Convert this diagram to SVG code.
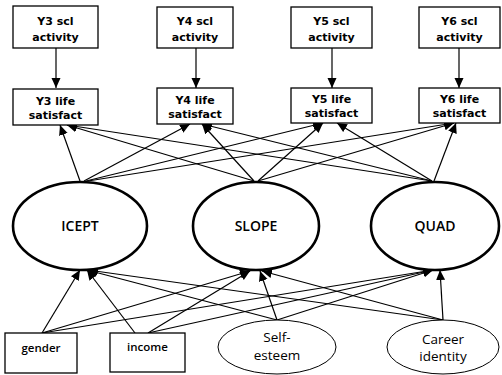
<svg xmlns="http://www.w3.org/2000/svg" width="502" height="375" viewBox="0 0 502 375">
<style>
.box{fill:#fff;stroke:#000;stroke-width:1.3}
.lat{fill:#fff;stroke:#000;stroke-width:2.6}
.obs{fill:#fff;stroke:#000;stroke-width:1}
.bt{font-family:"DejaVu Sans",sans-serif;font-size:11px;font-weight:bold;text-anchor:middle;fill:#000}
.lt{font-family:"Open Sans",sans-serif;font-size:14px;font-weight:600;text-anchor:middle;fill:#000}
.xt{font-family:"Open Sans",sans-serif;font-size:11.5px;font-weight:600;text-anchor:middle;fill:#000}
.ot{font-family:"Open Sans",sans-serif;font-size:13.5px;text-anchor:middle;fill:#000}
.c line{stroke:#000;stroke-width:1.2;marker-end:url(#ah)}
</style>
<defs>
<marker id="ah" markerUnits="userSpaceOnUse" markerWidth="12" markerHeight="10" refX="10" refY="4.5" orient="auto">
<path d="M0,0 L10,4.5 L0,9 Z" fill="#000"/>
</marker>
</defs>
<rect width="502" height="375" fill="#fff"/>
<g id="connectors" class="c">
<line x1="56" y1="48" x2="56" y2="88"/>
<line x1="196" y1="48" x2="196" y2="88"/>
<line x1="332" y1="48" x2="332" y2="88"/>
<line x1="459" y1="48" x2="459" y2="88"/>
<line x1="80" y1="181" x2="60" y2="125"/>
<line x1="84" y1="181" x2="190" y2="124"/>
<line x1="86" y1="181" x2="323" y2="123"/>
<line x1="88" y1="181" x2="454" y2="123"/>
<line x1="254" y1="181" x2="67" y2="125"/>
<line x1="254" y1="181" x2="202" y2="124"/>
<line x1="258" y1="181" x2="323" y2="123"/>
<line x1="258" y1="181" x2="454" y2="123"/>
<line x1="432" y1="181" x2="67" y2="125"/>
<line x1="432" y1="181" x2="202" y2="124"/>
<line x1="432" y1="181" x2="337" y2="123"/>
<line x1="434" y1="181" x2="456" y2="123"/>
<line x1="42" y1="333" x2="80" y2="270"/>
<line x1="42" y1="333" x2="250" y2="271"/>
<line x1="42" y1="333" x2="433" y2="270"/>
<line x1="135" y1="333" x2="87" y2="270"/>
<line x1="148" y1="333" x2="250" y2="271"/>
<line x1="148" y1="333" x2="433" y2="270"/>
<line x1="277" y1="320" x2="87" y2="270"/>
<line x1="277" y1="320" x2="260" y2="271"/>
<line x1="277" y1="320" x2="433" y2="270"/>
<line x1="443" y1="320" x2="88" y2="270"/>
<line x1="443" y1="320" x2="262" y2="271"/>
<line x1="443" y1="320" x2="440" y2="270"/>
</g>
<g id="y3scl"><rect class="box" x="13" y="6" width="85" height="42"/><text class="bt" x="55.5" y="25">Y3 scl</text><text class="bt" x="55.5" y="41">activity</text></g>
<g id="y4scl"><rect class="box" x="157" y="7" width="76" height="41"/><text class="bt" x="195" y="25">Y4 scl</text><text class="bt" x="195" y="41">activity</text></g>
<g id="y5scl"><rect class="box" x="291" y="7" width="81" height="41"/><text class="bt" x="331.5" y="25">Y5 scl</text><text class="bt" x="331.5" y="41">activity</text></g>
<g id="y6scl"><rect class="box" x="419" y="7" width="81" height="41"/><text class="bt" x="459.5" y="25">Y6 scl</text><text class="bt" x="459.5" y="41">activity</text></g>
<g id="y3life"><rect class="box" x="13" y="89" width="85" height="36"/><text class="bt" x="55.5" y="105">Y3 life</text><text class="bt" x="55.5" y="119">satisfact</text></g>
<g id="y4life"><rect class="box" x="157" y="88" width="76" height="36"/><text class="bt" x="195" y="104">Y4 life</text><text class="bt" x="195" y="118">satisfact</text></g>
<g id="y5life"><rect class="box" x="291" y="88" width="81" height="35"/><text class="bt" x="331.5" y="103">Y5 life</text><text class="bt" x="331.5" y="117">satisfact</text></g>
<g id="y6life"><rect class="box" x="419" y="88" width="81" height="35"/><text class="bt" x="459.5" y="103">Y6 life</text><text class="bt" x="459.5" y="117">satisfact</text></g>
<g id="icept"><ellipse class="lat" cx="80" cy="226" rx="67" ry="44"/><text class="lt" x="80" y="231">ICEPT</text></g>
<g id="slope"><ellipse class="lat" cx="256" cy="226" rx="63" ry="44"/><text class="lt" x="256" y="231">SLOPE</text></g>
<g id="quad"><ellipse class="lat" cx="435" cy="226" rx="64" ry="44"/><text class="lt" x="435" y="231">QUAD</text></g>
<g id="gender"><rect class="box" x="5" y="333" width="72" height="40"/><text class="xt" x="41" y="352">gender</text></g>
<g id="income"><rect class="box" x="110" y="333" width="75" height="39"/><text class="xt" x="147.5" y="351">income</text></g>
<g id="selfesteem"><ellipse class="obs" cx="277" cy="347" rx="59" ry="27"/><text class="ot" x="277" y="342">Self-</text><text class="ot" x="277" y="360">esteem</text></g>
<g id="career"><ellipse class="obs" cx="443" cy="347" rx="56" ry="27"/><text class="ot" x="443" y="344">Career</text><text class="ot" x="443" y="361">identity</text></g>
</svg>
